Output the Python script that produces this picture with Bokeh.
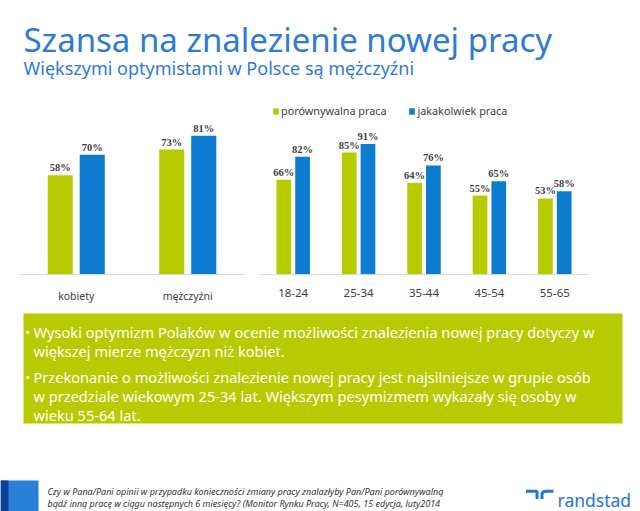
from bokeh.plotting import figure
from bokeh.models import ColumnDataSource, Range1d, FactorRange, Label, LabelSet, Legend, LegendItem
from bokeh.layouts import column, row
from bokeh.transform import dodge
from bokeh.embed import file_html
from bokeh.resources import INLINE

# ---------------- data ----------------
title = "Szansa na znalezienie nowej pracy"
subtitle = "Większymi optymistami w Polsce są mężczyźni"
series_names = ["porównywalna praca", "jakakolwiek praca"]

gender_cats = ["kobiety", "mężczyźni"]
gender_comparable = [58, 73]
gender_any = [70, 81]

age_cats = ["18-24", "25-34", "35-44", "45-54", "55-65"]
age_comparable = [66, 85, 64, 55, 53]
age_any = [82, 91, 76, 65, 58]

bullet_1 = ["Wysoki optymizm Polaków w ocenie możliwości znalezienia nowej pracy dotyczy w",
            "większej mierze mężczyzn niż kobiet."]
bullet_2 = ["Przekonanie o możliwości znalezienie nowej pracy jest najsilniejsze w grupie osób",
            "w przedziale wiekowym 25-34 lat. Większym pesymizmem wykazały się osoby w",
            "wieku 55-64 lat."]
footnote = ["Czy w Pana/Pani opinii w przypadku konieczności zmiany pracy znalazłyby Pan/Pani porównywalną",
            "bądź inną pracę w ciągu następnych 6 miesięcy? (Monitor Rynku Pracy, N=405, 15 edycja, luty2014"]
brand = "randstad"

# ---------------- style ----------------
FONT = "Noto Sans"
GREEN = "#b7cc00"
BLUE = "#0c7bd0"
TITLE_BLUE = "#2e7bd6"
GREY = "#404040"
W = 640


def blank(h):
    p = figure(width=W, height=h, x_range=Range1d(0, W), y_range=Range1d(h, 0),
               x_axis_type=None, y_axis_type=None, output_backend="svg",
               toolbar_location=None, min_border=0)
    p.grid.visible = False
    p.outline_line_color = None
    p.background_fill_color = "white"
    p.border_fill_color = "white"
    return p


# ---------------- header ----------------
head = blank(85)
head.add_layout(Label(x=23, y=39, text=title, text_font=FONT, text_font_size="33px",
                      text_color=TITLE_BLUE, text_baseline="alphabetic"))
head.add_layout(Label(x=23, y=67, text=subtitle, text_font=FONT, text_font_size="18px",
                      text_color=TITLE_BLUE, text_baseline="alphabetic"))


# ---------------- bar charts ----------------
def bar_chart(cats, comp, anyv, width, border_left, border_right, ymax, label_size, with_legend):
    src = ColumnDataSource(dict(cat=cats, comp=comp, anyv=anyv,
                                comp_t=[f"{v}%" for v in comp], any_t=[f"{v}%" for v in anyv]))
    p = figure(width=width, height=220, x_range=FactorRange(*cats, range_padding=0),
               y_range=Range1d(0, ymax), output_backend="svg", toolbar_location=None,
               min_border_left=border_left, min_border_right=border_right,
               min_border_top=0, min_border_bottom=29)
    p.outline_line_color = None
    p.grid.visible = False
    p.yaxis.visible = False
    off = 0.1435
    bw = 0.225
    r1 = p.vbar(x=dodge("cat", -off, range=p.x_range), top="comp", width=bw, source=src,
                fill_color=GREEN, line_color=None)
    r2 = p.vbar(x=dodge("cat", off, range=p.x_range), top="anyv", width=bw, source=src,
                fill_color=BLUE, line_color=None)
    for key, txt, o in (("comp", "comp_t", -off), ("anyv", "any_t", off)):
        p.add_layout(LabelSet(x=dodge("cat", o, range=p.x_range), y=key, text=txt, source=src,
                              y_offset=4, text_align="center", text_baseline="alphabetic",
                              text_font=FONT, text_font_size="10.5px", text_font_style="bold",
                              text_color=GREY))
    ax = p.xaxis[0]
    ax.axis_line_color = "#d9d9d9"
    ax.axis_line_width = 1
    ax.major_tick_line_color = None
    ax.minor_tick_line_color = None
    ax.major_label_text_font = FONT
    ax.major_label_text_font_size = label_size
    ax.major_label_text_color = GREY
    ax.major_label_standoff = 8
    if with_legend:
        leg = Legend(items=[LegendItem(label=series_names[0], renderers=[r1]),
                            LegendItem(label=series_names[1], renderers=[r2])],
                     orientation="horizontal", location=(12, 156),
                     border_line_color=None, background_fill_alpha=0,
                     padding=0, margin=0, spacing=22, label_standoff=2,
                     glyph_width=7, glyph_height=8, label_height=12,
                     label_text_font=FONT, label_text_font_size="10.8px",
                     label_text_color=GREY)
        p.add_layout(leg)
    return p


left = bar_chart(gender_cats, gender_comparable, gender_any, 250, 20, 7, 110.4, "10.5px", False)
right = bar_chart(age_cats, age_comparable, age_any, 390, 10, 53, 131.7, "11.5px", True)

# ---------------- text box ----------------
box = blank(127)
box.quad(left=[23], right=[622], top=[8], bottom=[118], fill_color=GREEN, line_color=None)
ys = [26, 45, 71, 90, 109]
lines = bullet_1 + bullet_2
for i, (t, y) in enumerate(zip(lines, ys)):
    if i in (0, 2):
        box.add_layout(Label(x=25, y=y + 1, text="•", text_font=FONT, text_font_size="12px",
                             text_color="white", text_baseline="alphabetic"))
    box.add_layout(Label(x=33, y=y, text=t, text_font=FONT, text_font_size="14.6px",
                         text_color="white", text_baseline="alphabetic"))

# ---------------- footer ----------------
foot = blank(79)
foot.quad(left=[0], right=[38], top=[48], bottom=[79], fill_color="#2a7fd6", line_color=None)
foot.quad(left=[0], right=[8], top=[48], bottom=[79], fill_color="#0d3f96", line_color=None)
for t, y in zip(footnote, [59, 71]):
    foot.add_layout(Label(x=47, y=y, text=t, text_font=FONT, text_font_size="9px",
                          text_font_style="italic", text_color="#333333",
                          text_baseline="alphabetic"))
foot.multi_line(xs=[[525.5, 536.5, 536.5], [541.5, 541.5, 543, 545.5, 553]],
                ys=[[58.7, 58.7, 66.5], [66.5, 61, 59.2, 58.7, 58.7]],
                line_color="#2175d9", line_width=3)
foot.add_layout(Label(x=557, y=67, text=brand, text_font=FONT, text_font_size="17.5px",
                      text_color="#2175d9", text_baseline="alphabetic"))

layout = column(head, row(left, right), box, foot)
open("out.html", "w").write(file_html(layout, INLINE))
